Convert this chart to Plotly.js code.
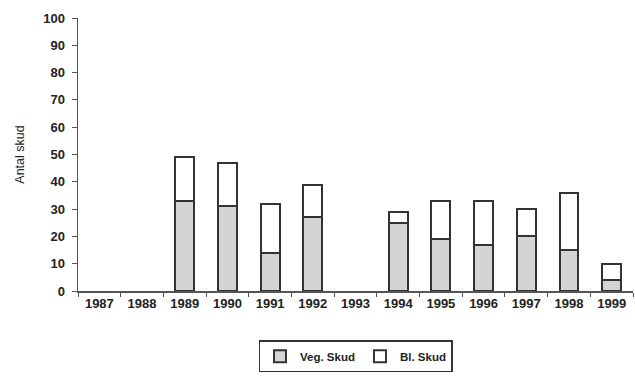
<!DOCTYPE html>
<html><head><meta charset="utf-8">
<script src="https://cdn.plot.ly/plotly-3.0.1.min.js"></script>
<style>body{margin:0;background:#fff}#c{width:635px;height:376px}</style>
</head><body><div id="c"></div>
<script>
const years = ['1987','1988','1989','1990','1991','1992','1993','1994','1995','1996','1997','1998','1999'];
const vegSkud = [null, null, 33, 31, 14, 27, null, 25, 19, 17, 20, 15, 4];
const blSkud  = [null, null, 16, 16, 18, 12, null, 4, 14, 16, 10, 21, 6];
const yTicks = [0,10,20,30,40,50,60,70,80,90,100];

const ff = 'Liberation Sans, Arial, sans-serif';
const traces = [
  {type:'bar', name:'Veg. Skud', x:years, y:vegSkud, width:0.44,
   marker:{color:'#d4d4d4', line:{color:'#333', width:2}}},
  {type:'bar', name:'Bl. Skud', x:years, y:blSkud, width:0.44,
   marker:{color:'#ffffff', line:{color:'#333', width:2}}}
];
const layout = {
  width:635, height:376, barmode:'stack',
  margin:{l:78, r:2, t:18, b:85},
  paper_bgcolor:'#fff', plot_bgcolor:'#fff',
  font:{family:ff, size:12, color:'#222'}, showlegend:true,
  xaxis:{type:'category', showline:true, linecolor:'#555', linewidth:1.5,
    ticks:'outside', tickson:'boundaries', ticklen:4, tickcolor:'#555',
    tickfont:{family:ff, size:13, color:'#222', weight:'bold'},
    showgrid:false, zeroline:false},
  yaxis:{range:[0,100], tickvals:yTicks, showline:true, linecolor:'#555', linewidth:1.5,
    ticks:'outside', ticklen:5, tickcolor:'#555', showgrid:false, zeroline:false,
    ticklabelstandoff:4,
    tickfont:{family:ff, size:13, color:'#222', weight:'bold'},
    title:{text:'Antal skud', standoff:16, font:{family:ff, size:12.5, color:'#222'}}},
  legend:{orientation:'h', x:0.5, xanchor:'center', y:-0.18, yanchor:'top',
    bordercolor:'#333', borderwidth:1.5, traceorder:'normal', itemwidth:30,
    font:{family:ff, size:11.5, color:'#222', weight:'bold'}}
};
Plotly.newPlot('c', traces, layout, {displayModeBar:false, staticPlot:true});
</script></body></html>
